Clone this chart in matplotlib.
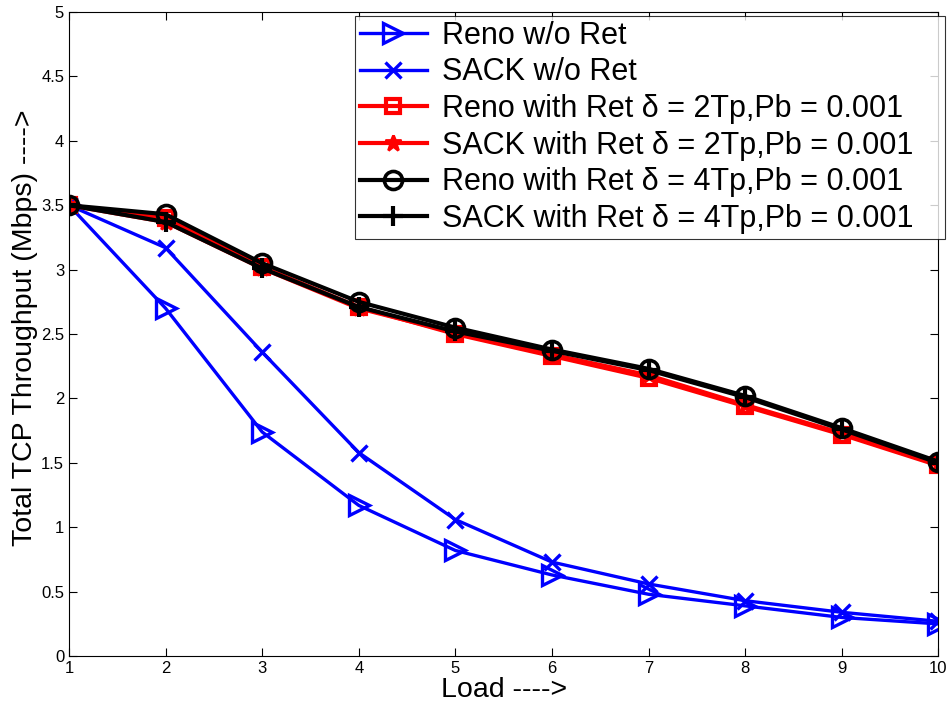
import matplotlib

matplotlib.use("Agg")
import matplotlib.pyplot as plt

plt.rcParams["font.family"] = ["Liberation Sans", "DejaVu Sans"]

# load points and throughput (Mbps)
LOAD = [1, 2, 3, 4, 5, 6, 7, 8, 9, 10]
RENO_NORET = [3.5, 2.70, 1.74, 1.17, 0.82, 0.63, 0.48, 0.39, 0.30, 0.25]
SACK_NORET = [3.5, 3.17, 2.36, 1.58, 1.06, 0.73, 0.56, 0.43, 0.34, 0.27]
RENO_RET2 = [3.5, 3.40, 3.02, 2.71, 2.50, 2.33, 2.16, 1.94, 1.72, 1.48]
SACK_RET2 = [3.5, 3.37, 3.01, 2.70, 2.51, 2.34, 2.18, 1.95, 1.73, 1.49]
RENO_RET4 = [3.5, 3.43, 3.05, 2.75, 2.55, 2.38, 2.23, 2.02, 1.77, 1.51]
SACK_RET4 = [3.5, 3.37, 3.01, 2.71, 2.52, 2.37, 2.22, 2.01, 1.76, 1.50]

LABELS = [
    "Reno w/o Ret",
    "SACK w/o Ret",
    "Reno with Ret δ = 2Tp,Pb = 0.001",
    "SACK with Ret δ = 2Tp,Pb = 0.001",
    "Reno with Ret δ = 4Tp,Pb = 0.001",
    "SACK with Ret δ = 4Tp,Pb = 0.001",
]
YTICKS = [0, 0.5, 1, 1.5, 2, 2.5, 3, 3.5, 4, 4.5, 5]
YTICKLABELS = ["0", "0.5", "1", "1.5", "2", "2.5", "3", "3.5", "4", "4.5", "5"]

fig = plt.figure(figsize=(9.49, 7.07), dpi=100)
ax = fig.add_axes([0.0727, 0.072, 0.916, 0.911])

ax.plot(LOAD, RENO_NORET, "->", color="#0000ff", lw=2.4, ms=15, mfc="none", mew=2.4,
        label=LABELS[0])
ax.plot(LOAD, SACK_NORET, "-x", color="#0000ff", lw=2.4, ms=12, mew=2.4, label=LABELS[1])
ax.plot(LOAD, RENO_RET2, "-s", color="#ff0000", lw=3, ms=10, mfc="none", mew=3,
        label=LABELS[2])
ax.plot(LOAD, SACK_RET2, "-*", color="#ff0000", lw=3, ms=12, mew=2, label=LABELS[3])
ax.plot(LOAD, RENO_RET4, "-o", color="black", lw=3, ms=13, mfc="none", mew=2.6,
        label=LABELS[4])
ax.plot(LOAD, SACK_RET4, "-+", color="black", lw=3, ms=14, mew=3, label=LABELS[5])

ax.set_xlim(1, 10)
ax.set_ylim(0, 5)
ax.set_xticks(LOAD)
ax.set_yticks(YTICKS)
ax.set_yticklabels(YTICKLABELS)
ax.tick_params(direction="in", top=True, right=True, labelsize=12, length=6, width=0.8)
for s in ax.spines.values():
    s.set_linewidth(0.8)

ax.set_xlabel("Load ---->", fontsize=20.5)
ax.xaxis.set_label_coords(0.5, -0.033)
ax.set_ylabel("Total TCP Throughput (Mbps) ---->", fontsize=20.5)
ax.yaxis.set_label_coords(-0.036, 0.51)

# legend box spans ~355..945 px wide, top at ~16 px
leg = ax.legend(loc="upper right", bbox_to_anchor=(0.374, 0.6, 0.622, 0.3774),
                bbox_transform=fig.transFigure, mode="expand",
                fontsize=22, frameon=True, fancybox=False, edgecolor="black",
                handlelength=2.2, handletextpad=0.5, labelspacing=0.22, borderpad=0.15,
                borderaxespad=0)
leg.get_frame().set_linewidth(0.8)

fig.savefig("out.png", dpi=100)
